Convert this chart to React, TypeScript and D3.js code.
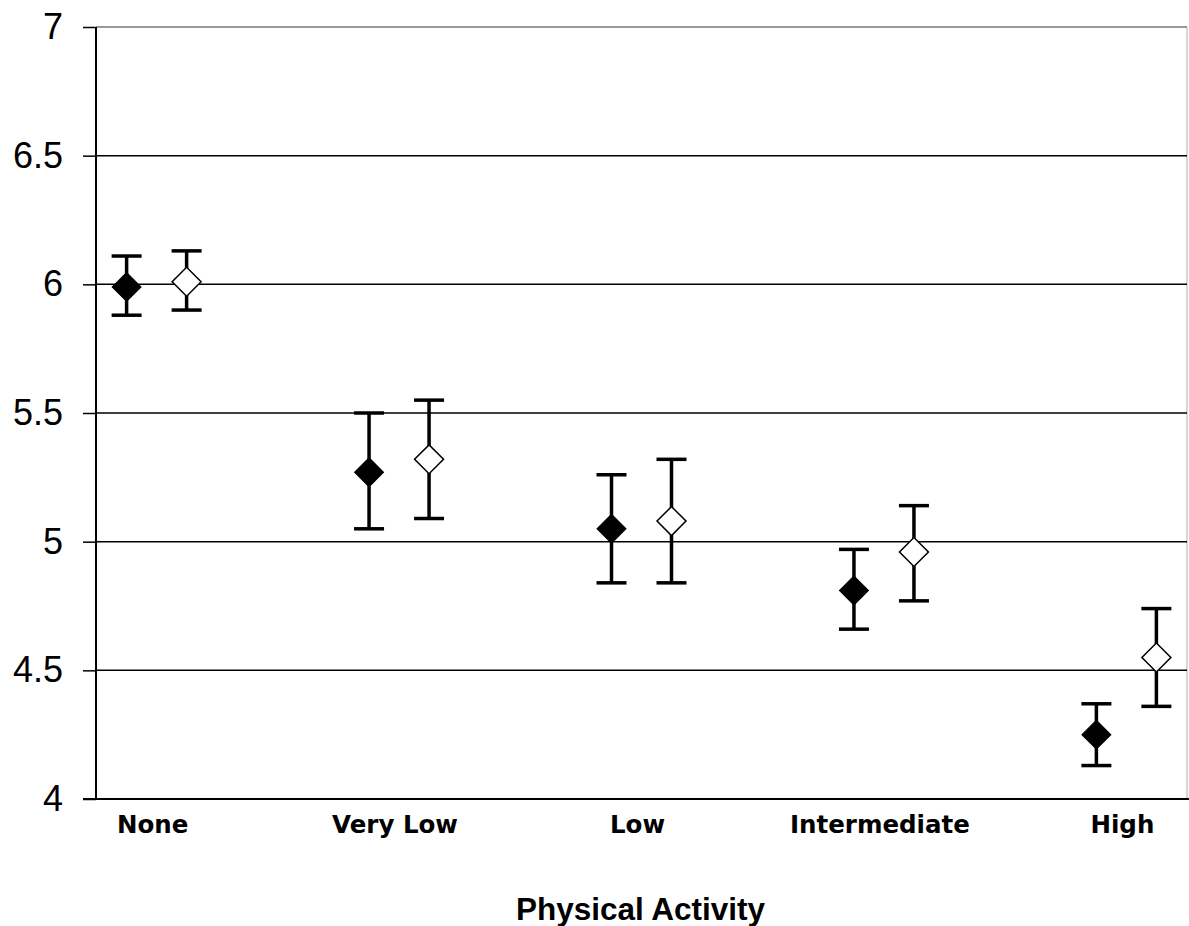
import React, { useRef, useEffect } from 'react';
import * as d3 from 'd3';

// categories on the x axis
const categories = ['None', 'Very Low', 'Low', 'Intermediate', 'High'];
const seriesNames = ['filled', 'open'];

// filled diamonds: mean, lower, upper
const filledMean = [5.99, 5.27, 5.05, 4.81, 4.25];
const filledLow = [5.88, 5.05, 4.84, 4.66, 4.13];
const filledHigh = [6.11, 5.5, 5.26, 4.97, 4.37];

// open diamonds: mean, lower, upper
const openMean = [6.01, 5.32, 5.08, 4.96, 4.55];
const openLow = [5.9, 5.09, 4.84, 4.77, 4.36];
const openHigh = [6.13, 5.55, 5.32, 5.14, 4.74];

const yTicks = [4, 4.5, 5, 5.5, 6, 6.5, 7];
const xTitle = 'Physical Activity';

interface Point {
  cat: string;
  series: string;
  mean: number;
  low: number;
  high: number;
}

const points: Point[] = [
  ...categories.map((c, i) => ({ cat: c, series: 'filled', mean: filledMean[i], low: filledLow[i], high: filledHigh[i] })),
  ...categories.map((c, i) => ({ cat: c, series: 'open', mean: openMean[i], low: openLow[i], high: openHigh[i] })),
];

const App: React.FC = () => {
  const svgRef = useRef<SVGSVGElement>(null);
  const width = 1189;
  const height = 926;
  const margin = { top: 27, right: 2, bottom: 127, left: 96 };

  useEffect(() => {
    if (!svgRef.current) return;
    const svg = d3.select(svgRef.current);
    svg.selectAll('*').remove();

    const left = margin.left;
    const right = width - margin.right;
    const top = margin.top;
    const bottom = height - margin.bottom;

    const x = d3.scalePoint<string>().domain(categories).range([left, right]).padding(0.25);
    const offset = d3.scalePoint<string>().domain(seriesNames).range([-30, 30]);
    const y = d3.scaleLinear().domain([4, 7]).range([bottom, top]);

    svg.append('rect').attr('width', width).attr('height', height).attr('fill', '#fff');

    // right border of plot area
    svg.append('line')
      .attr('x1', right).attr('x2', right)
      .attr('y1', top).attr('y2', bottom)
      .attr('stroke', '#c8c8c8').attr('stroke-width', 1.5);

    // gridlines
    svg.append('g')
      .selectAll('line')
      .data(yTicks.filter(t => t > 4))
      .enter()
      .append('line')
      .attr('x1', left).attr('x2', right)
      .attr('y1', d => y(d)).attr('y2', d => y(d))
      .attr('stroke', d => (d === 7 ? '#999' : '#000'))
      .attr('stroke-width', d => (d === 7 ? 2 : 1.5));

    // y axis
    const yAxis = svg.append('g')
      .attr('transform', `translate(${left},0)`)
      .call(d3.axisLeft(y).tickValues(yTicks).tickSize(13).tickPadding(20).tickFormat(d => `${d}`));
    yAxis.select('.domain').attr('stroke', '#000').attr('stroke-width', 2).attr('d', `M0,${top}V${bottom}`);
    yAxis.selectAll('.tick line').attr('stroke', '#000').attr('stroke-width', 1.5);
    yAxis.selectAll('.tick text')
      .attr('font-family', '"Liberation Sans", Arial, sans-serif')
      .attr('font-size', 36)
      .attr('fill', '#000');

    // x axis line
    svg.append('line')
      .attr('x1', left - 13).attr('x2', width)
      .attr('y1', bottom).attr('y2', bottom)
      .attr('stroke', '#000').attr('stroke-width', 2);

    // category labels
    svg.append('g')
      .selectAll('text')
      .data(categories)
      .enter()
      .append('text')
      .attr('x', d => (x(d) || 0) - 4)
      .attr('y', bottom + 34)
      .attr('text-anchor', 'middle')
      .attr('font-family', '"DejaVu Sans", Verdana, sans-serif')
      .attr('font-weight', 'bold')
      .attr('font-size', 24.5)
      .attr('fill', '#000')
      .text(d => d);

    // axis title
    svg.append('text')
      .attr('x', (left + right) / 2 - 1)
      .attr('y', 920)
      .attr('text-anchor', 'middle')
      .attr('font-family', '"Liberation Sans", Arial, sans-serif')
      .attr('font-weight', 'bold')
      .attr('font-size', 31.5)
      .attr('fill', '#000')
      .text(xTitle);

    const cx = (d: Point) => (x(d.cat) || 0) + (offset(d.series) || 0);
    const capW = 15;

    const bars = svg.append('g')
      .selectAll('g')
      .data(points)
      .enter()
      .append('g');

    bars.append('line')
      .attr('x1', cx).attr('x2', cx)
      .attr('y1', d => y(d.low)).attr('y2', d => y(d.high))
      .attr('stroke', '#000').attr('stroke-width', 3.5);
    bars.append('line')
      .attr('x1', d => cx(d) - capW).attr('x2', d => cx(d) + capW)
      .attr('y1', d => y(d.high)).attr('y2', d => y(d.high))
      .attr('stroke', '#000').attr('stroke-width', 3.5);
    bars.append('line')
      .attr('x1', d => cx(d) - capW).attr('x2', d => cx(d) + capW)
      .attr('y1', d => y(d.low)).attr('y2', d => y(d.low))
      .attr('stroke', '#000').attr('stroke-width', 3.5);

    const diamond = d3.symbol().type(d3.symbolSquare).size(420);
    bars.append('path')
      .attr('d', diamond() || '')
      .attr('transform', d => `translate(${cx(d)},${y(d.mean)}) rotate(45)`)
      .attr('fill', d => (d.series === 'filled' ? '#000' : '#fff'))
      .attr('stroke', '#000')
      .attr('stroke-width', d => (d.series === 'filled' ? 1 : 1.5));
  }, []);

  return (
    <svg
      ref={svgRef}
      width={width}
      height={height}
      style={{ position: 'absolute', left: 0, top: 0, display: 'block' }}
    />
  );
};

export default App;
